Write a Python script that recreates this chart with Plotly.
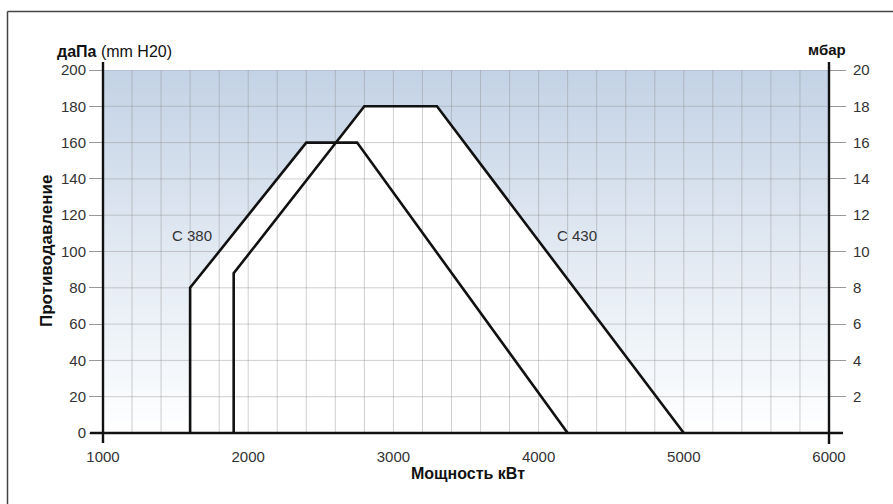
import numpy as np
import plotly.graph_objects as go

# Working fields (power kW, back-pressure daPa)
c380_power = [1600, 1600, 2400, 2750, 4200]
c380_press = [0, 80, 160, 160, 0]
c430_power = [1900, 1900, 2800, 3300, 5000]
c430_press = [0, 88, 180, 180, 0]

series_names = ["C 380", "C 430"]
label_pos_power = [1613, 4264]
label_pos_press = [109, 109]

x_ticks = [1000, 2000, 3000, 4000, 5000, 6000]
y_ticks = list(range(0, 201, 20))
y2_ticks = list(range(2, 21, 2))
x_grid = list(range(1000, 6001, 200))

W, H = 893, 504
ML, MR, MT, MB = 103, 64, 70, 71
PW, PH = W - ML - MR, H - MT - MB

FONT = "Liberation Sans, Arial, Helvetica, sans-serif"
TXT = "#333333"


def px(xp):
    return (xp - ML) / PW


def py(yp):
    return 1 - (yp - MT) / PH


fig = go.Figure()

# background gradient over the plot area
rows = np.linspace(0, 200, 121)
fig.add_trace(go.Heatmap(
    x=[1000, 6000], y=rows, z=[[v] for v in (rows[:-1] + rows[1:]) / 2],
    colorscale=[[0, "#ffffff"], [0.2, "#f2f6fa"], [0.55, "#dfe7f1"], [1, "#c3d2e5"]],
    zmin=0, zmax=200, showscale=False, hoverinfo="skip", zsmooth="best",
))

# white working areas
for xs, ys in [(c380_power, c380_press), (c430_power, c430_press)]:
    fig.add_trace(go.Scatter(x=xs, y=ys, fill="toself", fillcolor="white",
                             mode="none", hoverinfo="skip", showlegend=False))

# grid drawn over the fills
gx, gy = [], []
for v in x_grid:
    gx += [v, v, None]
    gy += [0, 200, None]
for v in y_ticks:
    gx += [1000, 6000, None]
    gy += [v, v, None]
fig.add_trace(go.Scatter(x=gx, y=gy, mode="lines",
                         line=dict(color="rgba(140,140,140,0.42)", width=1),
                         hoverinfo="skip", showlegend=False))

# outlines
for xs, ys, name in [(c380_power, c380_press, series_names[0]),
                     (c430_power, c430_press, series_names[1])]:
    fig.add_trace(go.Scatter(x=xs, y=ys, mode="lines", name=name,
                             line=dict(color="#111111", width=2.6),
                             showlegend=False))

# secondary axis carrier
fig.add_trace(go.Scatter(x=[None], y=[None], yaxis="y2", showlegend=False))

for name, xv, yv in zip(series_names, label_pos_power, label_pos_press):
    fig.add_annotation(x=xv, y=yv, text=name, showarrow=False,
                       font=dict(family=FONT, size=15, color=TXT))

shapes = [
    # axis lines extending past the plot area
    dict(type="line", xref="paper", yref="paper", x0=0, x1=0,
         y0=py(443), y1=py(62), line=dict(color="#111", width=2.4)),
    dict(type="line", xref="paper", yref="paper", x0=1, x1=1,
         y0=py(444), y1=py(62), line=dict(color="#111", width=2.4)),
    dict(type="line", xref="paper", yref="paper", x0=px(90), x1=px(843),
         y0=0, y1=0, line=dict(color="#111", width=2.4)),
    # outer frame
    dict(type="line", xref="paper", yref="paper", x0=px(7.5), x1=px(893),
         y0=py(11.5), y1=py(11.5), line=dict(color="#444", width=1.5)),
    dict(type="line", xref="paper", yref="paper", x0=px(7.5), x1=px(7.5),
         y0=py(11.5), y1=py(504), line=dict(color="#444", width=1.5)),
]

annos = [
    dict(x=px(55), y=py(52), xanchor="left", yanchor="middle",
         text="<b>даПа</b> (mm H20)", font_size=16),
    dict(x=px(827), y=py(50), xanchor="center", yanchor="middle",
         text="<b>мбар</b>", font_size=15),
    dict(x=px(46), y=py(251), xanchor="center", yanchor="middle",
         text="<b>Противодавление</b>", textangle=-90, font_size=17),
    dict(x=px(468), y=py(474), xanchor="center", yanchor="middle",
         text="<b>Мощность кВт</b>", font_size=16),
]
for a in annos:
    size = a.pop("font_size")
    fig.add_annotation(xref="paper", yref="paper", showarrow=False,
                       font=dict(family=FONT, size=size, color="#111"), **a)

fig.update_layout(
    width=W, height=H,
    margin=dict(l=ML, r=MR, t=MT, b=MB, pad=0),
    paper_bgcolor="white", plot_bgcolor="white",
    showlegend=False,
    shapes=shapes,
    font=dict(family=FONT, size=15, color=TXT),
    xaxis=dict(range=[1000, 6000], tickvals=x_ticks, showgrid=False,
               zeroline=False, showline=False, ticks="outside", ticklen=10,
               tickcolor="rgba(0,0,0,0)", tickfont=dict(size=15, color=TXT)),
    yaxis=dict(range=[0, 200], tickvals=y_ticks, showgrid=False,
               zeroline=False, showline=False, ticks="outside", ticklen=13,
               tickcolor="#999", tickwidth=1, tickfont=dict(size=15, color=TXT)),
    yaxis2=dict(range=[0, 20], tickvals=y2_ticks, overlaying="y", side="right",
                showgrid=False, zeroline=False, showline=False, ticks="outside",
                ticklen=16, tickcolor="#999", tickwidth=1, ticklabelstandoff=4,
                tickfont=dict(size=15, color=TXT)),
)

fig.write_html("out.html")
